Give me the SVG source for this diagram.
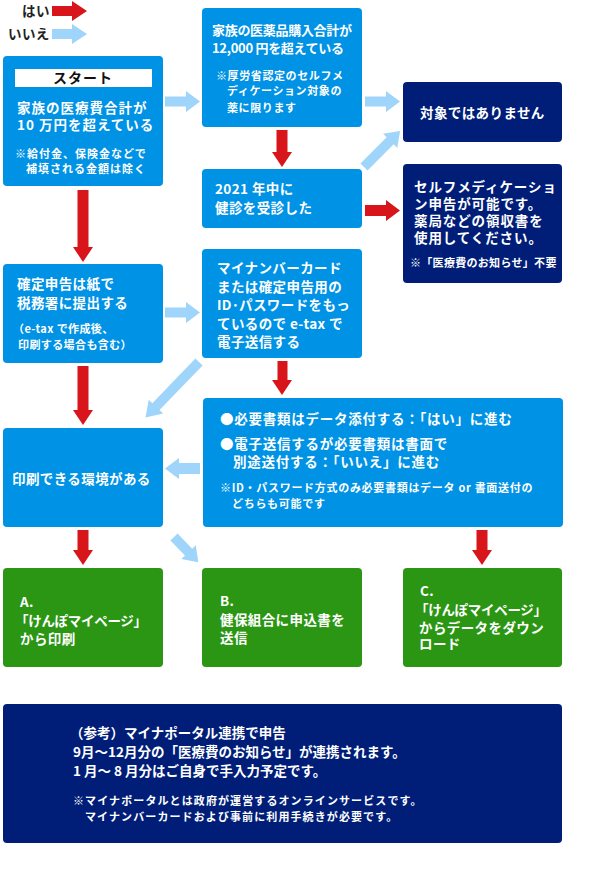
<svg xmlns="http://www.w3.org/2000/svg" width="590" height="874" viewBox="0 0 590 874">
<style>
text{font-family:"Noto Sans CJK JP","Noto Sans",sans-serif;font-weight:700;fill:#fff}
.m{font-size:13.5px;letter-spacing:0.4px}
.n{font-size:11px;letter-spacing:0.7px}
.k{fill:#222}
.blue{fill:#0092e5}
.navy{fill:#001e78}
.green{fill:#2b9613}
.red{fill:#d7151b}
.lb{fill:#9fd4fb}
</style>
<rect width="590" height="874" fill="#fff"/>
<g id="legend">
<text class="m k" x="22" y="16">はい</text>
<polygon class="red" points="52,6 72,6 72,1 87,11 72,21 72,16 52,16"/>
<text class="m k" x="8" y="39">いいえ</text>
<polygon class="lb" points="52,29 72,29 72,24 87,34 72,44 72,39 52,39"/>
</g>
<g id="start">
<rect class="blue" x="3" y="56" width="160" height="130" rx="4"/>
<rect x="15" y="69" width="137" height="18" fill="#fff"/>
<text x="83" y="83" text-anchor="middle" style="font-size:14px;fill:#111;letter-spacing:1px">スタート</text>
<text class="m" x="17" y="113" style="letter-spacing:1px">家族の医療費合計が</text>
<text class="m" x="17" y="130" style="letter-spacing:1px">10 万円を超えている</text>
<text class="n" x="15" y="158" style="letter-spacing:1px">※給付金、保険金などで</text>
<text class="n" x="26" y="173" style="letter-spacing:1px">補填される金額は除く</text>
</g>
<g id="medicine">
<rect class="blue" x="202" y="8" width="160" height="119" rx="4"/>
<text class="m" x="212" y="35" style="font-size:13px;letter-spacing:-0.3px">家族の医薬品購入合計が</text>
<text class="m" x="212" y="53" style="font-size:13px;letter-spacing:-0.3px">12,000 円を超えている</text>
<text class="n" x="216" y="80" style="letter-spacing:0.6px">※厚労省認定のセルフメ</text>
<text class="n" x="227" y="95" style="letter-spacing:0.6px">ディケーション対象の</text>
<text class="n" x="227" y="112" style="letter-spacing:0.6px">薬に限ります</text>
</g>
<g id="checkup">
<rect class="blue" x="202" y="169" width="160" height="59" rx="4"/>
<text class="m" x="215" y="194">2021 年中に</text>
<text class="m" x="215" y="213">健診を受診した</text>
</g>
<g id="notEligible">
<rect class="navy" x="403" y="82" width="159" height="60" rx="4"/>
<text class="m" x="420" y="118">対象ではありません</text>
</g>
<g id="selfmed">
<rect class="navy" x="403" y="164" width="159" height="119" rx="4"/>
<text class="m" x="414" y="192" style="letter-spacing:0.9px">セルフメディケーショ</text>
<text class="m" x="414" y="209" style="letter-spacing:0.9px">ン申告が可能です。</text>
<text class="m" x="414" y="226" style="letter-spacing:0.9px">薬局などの領収書を</text>
<text class="m" x="414" y="243" style="letter-spacing:0.9px">使用してください。</text>
<text class="n" x="410" y="267" style="letter-spacing:0.3px">※「医療費のお知らせ」不要</text>
</g>
<g id="paper">
<rect class="blue" x="3" y="264" width="160" height="99" rx="4"/>
<text class="m" x="17" y="289">確定申告は紙で</text>
<text class="m" x="17" y="308">税務署に提出する</text>
<text class="n" x="13" y="333" style="letter-spacing:0.4px">（e-tax で作成後、</text>
<text class="n" x="18" y="349" style="letter-spacing:0.4px">印刷する場合も含む）</text>
</g>
<g id="etax">
<rect class="blue" x="202" y="249" width="160" height="109" rx="4"/>
<text class="m" x="217" y="273">マイナンバーカード</text>
<text class="m" x="217" y="291.5">または確定申告用の</text>
<text class="m" x="217" y="310">ID･パスワードをもっ</text>
<text class="m" x="217" y="328.5">ているので e-tax で</text>
<text class="m" x="217" y="347">電子送信する</text>
</g>
<g id="printEnv">
<rect class="blue" x="3" y="428" width="160" height="99" rx="4"/>
<text class="m" x="12" y="484">印刷できる環境がある</text>
</g>
<g id="docs">
<rect class="blue" x="203" y="398" width="360" height="129" rx="4"/>
<text class="m" x="220" y="424" style="letter-spacing:0.75px">●必要書類はデータ添付する：「はい」に進む</text>
<text class="m" x="220" y="449" style="letter-spacing:0.75px">●電子送信するが必要書類は書面で</text>
<text class="m" x="233" y="467" style="letter-spacing:0.75px">別途送付する：「いいえ」に進む</text>
<text class="n" x="220" y="492">※ID・パスワード方式のみ必要書類はデータ or 書面送付の</text>
<text class="n" x="232" y="508">どちらも可能です</text>
</g>
<g id="optA">
<rect class="green" x="3" y="568" width="160" height="99" rx="4"/>
<text class="m" x="20" y="607">A.</text>
<text class="m" x="15" y="626" style="letter-spacing:-0.3px">「けんぽマイページ」</text>
<text class="m" x="20" y="644">から印刷</text>
</g>
<g id="optB">
<rect class="green" x="202" y="568" width="160" height="99" rx="4"/>
<text class="m" x="220" y="606">B.</text>
<text class="m" x="220" y="625">健保組合に申込書を</text>
<text class="m" x="220" y="643">送信</text>
</g>
<g id="optC">
<rect class="green" x="403" y="568" width="159" height="99" rx="4"/>
<text class="m" x="420" y="596">C.</text>
<text class="m" x="415" y="615" style="letter-spacing:-0.3px">「けんぽマイページ」</text>
<text class="m" x="419" y="633">からデータをダウン</text>
<text class="m" x="419" y="649">ロード</text>
</g>
<g id="reference">
<rect class="navy" x="3" y="704" width="559" height="139" rx="4"/>
<text class="m" x="70" y="738" style="letter-spacing:0">（参考）マイナポータル連携で申告</text>
<text class="m" x="73" y="757" style="letter-spacing:0">9月～12月分の「医療費のお知らせ」が連携されます。</text>
<text class="m" x="73" y="776" style="letter-spacing:0">1 月～ 8 月分はご自身で手入力予定です。</text>
<text class="n" x="73" y="805" style="letter-spacing:1.1px">※マイナポータルとは政府が運営するオンラインサービスです。</text>
<text class="n" x="85" y="821" style="letter-spacing:1.1px">マイナンバーカードおよび事前に利用手続きが必要です。</text>
</g>
<g id="connectors">
<polygon class="lb" points="165,96.5 186,96.5 186,91 200,101.5 186,112 186,106.5 165,106.5"/>
<polygon class="lb" points="365,96.5 386,96.5 386,91 400,101.5 386,112 386,106.5 365,106.5"/>
<polygon class="red" points="276.5,130 287.5,130 287.5,152 292,152 282,167 272,152 276.5,152"/>
<polygon class="lb" transform="translate(364,167) rotate(-45)" points="0,-5 37,-5 37,-10 51,0 37,10 37,5 0,5"/>
<polygon class="red" points="365,205 386,205 386,200 400,210.5 386,221 386,216 365,216"/>
<polygon class="red" points="77.5,190 88.5,190 88.5,247 93,247 83,262 73,247 77.5,247"/>
<polygon class="lb" points="165,307.5 186,307.5 186,302 200,312.5 186,323 186,317.5 165,317.5"/>
<polygon class="lb" transform="translate(199,362) rotate(134)" points="0,-5 62,-5 62,-10 77,0 62,10 62,5 0,5"/>
<polygon class="red" points="277.5,361 287.5,361 287.5,380 292,380 282,395 272,380 277.5,380"/>
<polygon class="red" points="77.5,366 88.5,366 88.5,410 93,410 83,425 73,410 77.5,410"/>
<polygon class="lb" points="200,463 179,463 179,458 165,468.5 179,479 179,474 200,474"/>
<polygon class="red" points="77.5,530 88.5,530 88.5,550 93,550 83,565 73,550 77.5,550"/>
<polygon class="lb" transform="translate(174,537) rotate(46)" points="0,-5 21,-5 21,-10 35,0 21,10 21,5 0,5"/>
<polygon class="red" points="476.5,530 487.5,530 487.5,550 492,550 482,565 472,550 476.5,550"/>
</g>
</svg>
